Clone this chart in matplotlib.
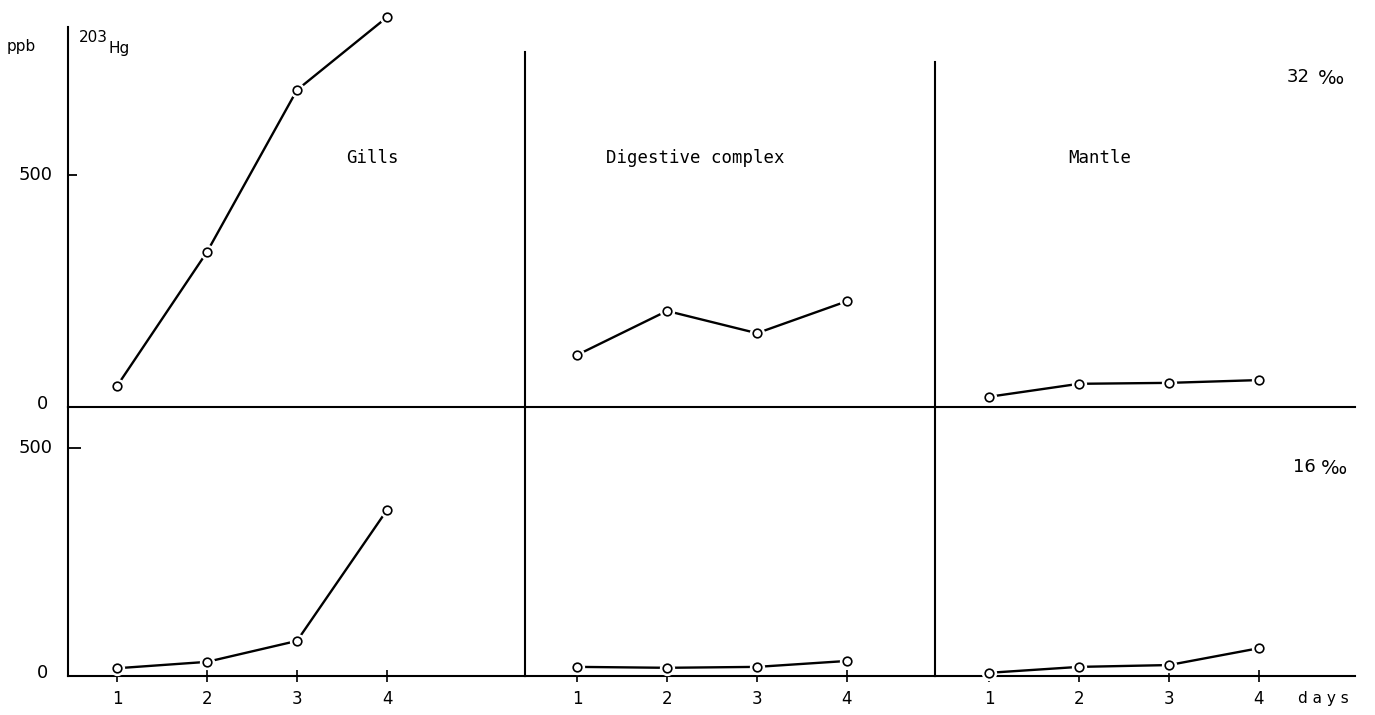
import matplotlib
matplotlib.use("Agg")
import matplotlib.pyplot as plt

# Mercury uptake (ppb 203Hg) over four days in three tissues, at two salinities
days = [1, 2, 3, 4]
tissues = ["Gills", "Digestive complex", "Mantle"]
salinity_values = ["32", "16"]
permille = "‰"

gills_32 = [45, 334, 683, 840]
digestive_32 = [112, 207, 159, 228]
mantle_32 = [22, 50, 52, 58]

gills_16 = [17, 31, 77, 364]
digestive_16 = [20, 18, 20, 33]
mantle_16 = [7, 20, 24, 61]

rows = [[gills_32, digestive_32, mantle_32],
        [gills_16, digestive_16, mantle_16]]

y_ticks = [0, 500]
x_tick_labels = ["1", "2", "3", "4"]

W, H = 1375, 715
fig = plt.figure(figsize=(W / 100, H / 100), dpi=100)
fig.patch.set_facecolor("white")


def box(x0, y_top, x1, y_bot):
    """Axes rectangle from pixel edges (origin top-left)."""
    return [x0 / W, 1 - y_bot / H, (x1 - x0) / W, (y_bot - y_top) / H]


col_edges = [(68, 525), (525, 935), (935, 1355)]
xlims = [(0.456, 5.533), (0.422, 4.978), (0.40, 5.067)]
row_edges = [(0, 407), (407, 676)]
ylims = [(0, 877), (0, 590)]
top_bounds = [819, 765, 743]
label_x = [372, 695, 1100]

mono = "DejaVu Sans Mono"
sans = "DejaVu Sans"
lw = 1.7


def ftext(x, y, s, **kw):
    fig.text(x / W, 1 - y / H, s, **kw)


for r in range(2):
    for c in range(3):
        x0, x1 = col_edges[c]
        yt, yb = row_edges[r]
        ax = fig.add_axes(box(x0, yt, x1, yb))
        ax.set_xlim(*xlims[c])
        ax.set_ylim(*ylims[r])
        ax.patch.set_alpha(0)
        for s in ("top", "right"):
            ax.spines[s].set_visible(False)
        for s in ("left", "bottom"):
            ax.spines[s].set_linewidth(1.5)
            ax.spines[s].set_color("black")
        if r == 0:
            ax.spines["left"].set_bounds(0, top_bounds[c])

        vals = rows[r][c]
        ax.plot(days, vals, color="black", lw=lw, solid_capstyle="butt",
                zorder=2, clip_on=False)
        ax.plot(days, vals, ls="none", marker="o", ms=10,
                mfc="white", mec="white", zorder=3, clip_on=False)
        ax.plot(days, vals, ls="none", marker="o", ms=6.2,
                mfc="white", mec="black", mew=1.2, zorder=4, clip_on=False)

        # y ticks only on the outer left axis
        if c == 0:
            ax.set_yticks([500])
            ax.tick_params(axis="y", direction="in",
                           length=6.5 if r == 0 else 9, width=1.3,
                           labelleft=False)
        else:
            ax.set_yticks([])

        # day ticks along the bottom axis
        if r == 1:
            ax.set_xticks(days)
            ax.set_xticklabels(x_tick_labels, fontsize=12, family=sans)
            ax.tick_params(axis="x", direction="inout", length=8,
                           width=1.2, pad=6)
        else:
            ax.set_xticks([])

# tissue labels
for c in range(3):
    ftext(label_x[c], 158, tissues[c], ha="center", va="center",
          fontsize=12.5, family=mono)

# y-axis labels
num_kw = dict(fontsize=13, family=sans, va="center")
ftext(53, 175, str(y_ticks[1]), ha="right", **num_kw)
ftext(48, 404, str(y_ticks[0]), ha="right", **num_kw)
ftext(53, 448, str(y_ticks[1]), ha="right", **num_kw)
ftext(48, 673, str(y_ticks[0]), ha="right", **num_kw)

# units header
ftext(21, 46, "ppb", ha="center", va="center", fontsize=11, family=sans)
ftext(79, 38, "203", ha="left", va="center", fontsize=11, family=sans)
ftext(108, 48, "Hg", ha="left", va="center", fontsize=11, family=sans)

# salinity labels
ftext(1310, 77, salinity_values[0], ha="right", va="center", fontsize=13,
      family=sans)
ftext(1318, 78, permille, ha="left", va="center", fontsize=14,
      family=sans)
ftext(1316, 467, salinity_values[1], ha="right", va="center", fontsize=13,
      family=sans)
ftext(1321, 468, permille, ha="left", va="center", fontsize=14,
      family=sans)

# x-axis unit
ftext(1323, 698, "d a y s", ha="center", va="center", fontsize=11,
      family=sans)

fig.savefig("out.png", dpi=100, facecolor="white")
